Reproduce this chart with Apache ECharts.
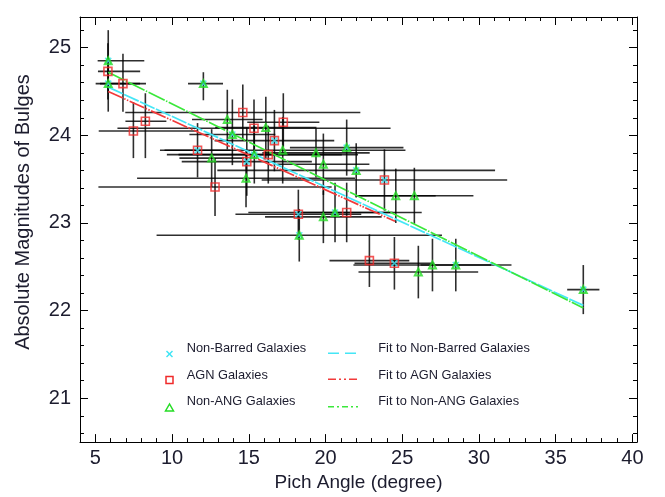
<!DOCTYPE html>
<html>
<head>
<meta charset="utf-8">
<script src="https://cdn.jsdelivr.net/npm/echarts@6/dist/echarts.min.js"></script>
<style>
    html, body { margin: 0; padding: 0; background: #fff; }
    #chart { width: 665px; height: 497px; }
</style>
</head>
<body>
<div id="chart"></div>
<script>
    // each row: [pitch angle, magnitude, x minus, x plus, y minus, y plus]
    var nonAgnGalaxies = [
        [5.84, 24.85, 0.69, 2.35, 0.35, 0.35],
        [5.84, 24.59, 0.82, 2.07, 0.32, 0.32],
        [12.04, 24.59, 1.0, 1.28, 0.19, 0.13],
        [13.60, 24.18, 2.3, 2.3, 0.34, 0.34],
        [16.11, 24.09, 3.3, 3.3, 0.35, 0.35],
        [13.93, 24.01, 2.8, 2.8, 0.35, 0.40],
        [17.21, 23.83, 8.0, 8.0, 0.38, 0.38],
        [21.38, 23.86, 3.7, 3.7, 0.32, 0.32],
        [19.38, 23.80, 3.5, 3.5, 0.28, 0.28],
        [19.86, 23.67, 3.0, 3.0, 0.35, 0.35],
        [22.00, 23.60, 9.05, 9.05, 0.31, 0.31],
        [24.58, 23.31, 2.6, 2.6, 0.31, 0.31],
        [25.79, 23.31, 3.85, 3.85, 0.32, 0.32],
        [19.86, 23.07, 3.8, 3.8, 0.30, 0.30],
        [20.62, 23.12, 5.65, 5.65, 0.34, 0.34],
        [18.29, 22.86, 9.3, 9.3, 0.30, 0.30],
        [26.05, 22.44, 3.9, 3.9, 0.30, 0.30],
        [26.97, 22.52, 5.15, 5.15, 0.30, 0.30],
        [28.49, 22.52, 2.3, 2.3, 0.30, 0.30],
        [36.80, 22.24, 1.05, 1.05, 0.28, 0.28],
        [14.82, 23.51, 7.1, 7.1, 0.33, 0.33],
        [12.58, 23.74, 2.1, 2.1, 0.33, 0.33],
        [15.36, 23.78, 5.7, 5.7, 0.33, 0.33]
    ];
    var agnGalaxies = [
        [5.82, 24.73, 0.65, 2.1, 0.32, 0.32],
        [6.80, 24.59, 1.5, 1.5, 0.32, 0.34],
        [8.26, 24.16, 1.3, 1.37, 0.42, 0.32],
        [7.48, 24.05, 2.26, 4.15, 0.31, 0.33],
        [14.61, 24.26, 7.66, 7.66, 0.32, 0.32],
        [15.34, 24.08, 8.9, 8.9, 0.31, 0.33],
        [17.25, 24.15, 2.35, 2.35, 0.28, 0.33],
        [23.84, 23.49, 8.0, 8.0, 0.35, 0.35],
        [21.38, 23.12, 3.0, 3.0, 0.34, 0.34],
        [18.23, 23.10, 4.1, 4.1, 0.29, 0.28],
        [22.86, 22.57, 2.6, 2.6, 0.30, 0.30],
        [24.49, 22.54, 2.6, 2.6, 0.30, 0.30],
        [12.80, 23.41, 7.6, 7.6, 0.33, 0.33],
        [14.87, 23.70, 4.24, 4.24, 0.39, 0.39],
        [11.66, 23.83, 2.15, 2.15, 0.31, 0.31],
        [16.27, 23.78, 5.85, 5.85, 0.33, 0.33],
        [16.67, 23.94, 3.9, 3.9, 0.35, 0.35]
    ];
    var nonBarredGalaxies = [
        [5.84, 24.85], [5.84, 24.59], [12.04, 24.59], [13.93, 24.01],
        [21.38, 23.86], [22.00, 23.60], [20.62, 23.12], [18.29, 22.86],
        [28.49, 22.52], [36.80, 22.24], [15.36, 23.78], [23.84, 23.49],
        [18.23, 23.10], [24.49, 22.54], [14.87, 23.70], [11.66, 23.83],
        [16.67, 23.94]
    ];
    var fitNonBarred = [[5.84, 24.55], [36.80, 22.06]];
    var fitAgn = [[5.84, 24.50], [24.53, 23.02]];
    var fitNonAgn = [[5.84, 24.72], [36.80, 22.03]];

    var xTicks = [5, 10, 15, 20, 25, 30, 35, 40];
    var yTicks = [21, 22, 23, 24, 25];
    var xMinor = [];
    for (var i = 5; i <= 40; i++) xMinor.push(i);
    var yMinor = [];
    for (var j = 103; j <= 126; j++) yMinor.push(Math.round(j * 0.2 * 10) / 10);

    var font = '"Liberation Sans", Arial, sans-serif';
    var textColor = '#1c1c2e';

    function errorBars(params, api) {
        var x = api.value(0), y = api.value(1);
        var l = api.coord([x - api.value(2), y]);
        var r = api.coord([x + api.value(3), y]);
        var b = api.coord([x, y - api.value(4)]);
        var t = api.coord([x, y + api.value(5)]);
        var st = { stroke: 'rgba(0,0,0,0.82)', lineWidth: 1.6 };
        return {
            type: 'group',
            children: [
                { type: 'line', shape: { x1: l[0], y1: l[1], x2: r[0], y2: r[1] }, style: st },
                { type: 'line', shape: { x1: b[0], y1: b[1], x2: t[0], y2: t[1] }, style: st }
            ]
        };
    }

    function xAxisDef(pos, major, labels) {
        return {
            type: 'value', position: pos, min: 4, max: 40.3,
            axisLine: { show: major, onZero: false, lineStyle: { color: '#000', width: 1 } },
            axisTick: { inside: true, length: major ? 8 : 4, customValues: major ? xTicks : xMinor, lineStyle: { color: '#000' } },
            axisLabel: labels ? { customValues: xTicks, fontSize: 20, fontFamily: font, color: textColor, margin: 6 } : { show: false },
            splitLine: { show: false }
        };
    }
    function yAxisDef(pos, major, labels) {
        return {
            type: 'value', position: pos, min: 20.5, max: 25.35,
            axisLine: { show: major, onZero: false, lineStyle: { color: '#000', width: 1 } },
            axisTick: { inside: true, length: major ? 8 : 4, customValues: major ? yTicks : yMinor, lineStyle: { color: '#000' } },
            axisLabel: labels ? { customValues: yTicks, fontSize: 20, fontFamily: font, color: textColor, margin: 9 } : { show: false },
            splitLine: { show: false }
        };
    }

    var xa = xAxisDef('bottom', true, true);
    xa.name = 'Pich Angle (degree)';
    xa.nameLocation = 'middle';
    xa.nameGap = 27;
    xa.nameTextStyle = { fontSize: 19, fontFamily: font, color: textColor };

    var legendText = { font: '12.8px ' + font, fill: textColor, textVerticalAlign: 'middle' };
    function lgText(x, y, s) {
        return { type: 'text', x: x, y: y, style: Object.assign({ text: s }, legendText) };
    }
    function lgLine(y, color, dash) {
        return { type: 'line', shape: { x1: 328, y1: y, x2: 358, y2: y }, style: { stroke: color, lineWidth: 1.5, lineDash: dash } };
    }

    var chart = echarts.init(document.getElementById('chart'));
    chart.setOption({
        animation: false,
        backgroundColor: '#fff',
        grid: { left: 80, right: 28, top: 17, bottom: 44 },
        xAxis: [xa, xAxisDef('bottom', false, false), xAxisDef('top', true, false), xAxisDef('top', false, false)],
        yAxis: [yAxisDef('left', true, true), yAxisDef('left', false, false), yAxisDef('right', true, false), yAxisDef('right', false, false)],
        series: [
            { type: 'custom', renderItem: errorBars, data: nonAgnGalaxies, encode: { x: 0, y: 1 }, silent: true, z: 1 },
            { type: 'custom', renderItem: errorBars, data: agnGalaxies, encode: { x: 0, y: 1 }, silent: true, z: 1 },
            {
                name: 'Fit to Non-Barred Galaxies', type: 'line', data: fitNonBarred, showSymbol: false, z: 2,
                lineStyle: { color: '#45e6f6', width: 1.7, type: [16, 1.5] }
            },
            {
                name: 'Fit to AGN Galaxies', type: 'line', data: fitAgn, showSymbol: false, z: 2,
                lineStyle: { color: '#f23a3a', width: 1.7, type: [16, 1.5, 1.5, 1.5, 1.5, 1.5] }
            },
            {
                name: 'Fit to Non-ANG Galaxies', type: 'line', data: fitNonAgn, showSymbol: false, z: 2,
                lineStyle: { color: '#3be83b', width: 1.7, type: [18, 1.5, 1.5, 1.5] }
            },
            {
                name: 'AGN Galaxies', type: 'scatter', data: agnGalaxies, symbol: 'rect', symbolSize: 8, z: 3,
                itemStyle: { color: 'none', borderColor: '#f02a2a', borderWidth: 1.6 }
            },
            {
                name: 'Non-Barred Galaxies', type: 'scatter', data: nonBarredGalaxies,
                symbol: 'path://M0,0L10,10M10,0L0,10', symbolSize: 6, z: 4,
                itemStyle: { color: 'none', borderColor: '#3fe4f4', borderWidth: 1.6 }
            },
            {
                name: 'Non-ANG Galaxies', type: 'scatter', data: nonAgnGalaxies, symbol: 'triangle', symbolSize: 7, z: 5,
                itemStyle: { color: 'none', borderColor: '#25dd25', borderWidth: 2 }
            }
        ],
        graphic: [
            {
                type: 'text', x: 23, y: 212, rotation: Math.PI / 2,
                style: { text: 'Absolute Magnitudes of Bulges', font: '20px ' + font, fill: textColor, textAlign: 'center', textVerticalAlign: 'middle' }
            },
            { type: 'line', shape: { x1: 166.5, y1: 351, x2: 172.5, y2: 357 }, style: { stroke: '#3fe4f4', lineWidth: 1.5 } },
            { type: 'line', shape: { x1: 172.5, y1: 351, x2: 166.5, y2: 357 }, style: { stroke: '#3fe4f4', lineWidth: 1.5 } },
            { type: 'rect', shape: { x: 166, y: 376.5, width: 7, height: 7 }, style: { fill: 'none', stroke: '#f02a2a', lineWidth: 1.5 } },
            { type: 'polygon', shape: { points: [[169.5, 404], [165.5, 411], [173.5, 411]] }, style: { fill: 'none', stroke: '#25dd25', lineWidth: 1.5 } },
            lgText(186.7, 348.5, 'Non-Barred Galaxies'),
            lgText(186.7, 375.7, 'AGN Galaxies'),
            lgText(186.7, 401.7, 'Non-ANG Galaxies'),
            lgLine(353.3, '#45e6f6', [11, 6]),
            lgLine(379.3, '#f23a3a', [8, 3, 2, 3, 2, 3]),
            lgLine(406.7, '#3be83b', [6, 3, 2, 3]),
            lgText(378.3, 348.5, 'Fit to Non-Barred Galaxies'),
            lgText(378.3, 375.7, 'Fit to AGN Galaxies'),
            lgText(378.3, 401.7, 'Fit to Non-ANG Galaxies')
        ]
    });
</script>
</body>
</html>
